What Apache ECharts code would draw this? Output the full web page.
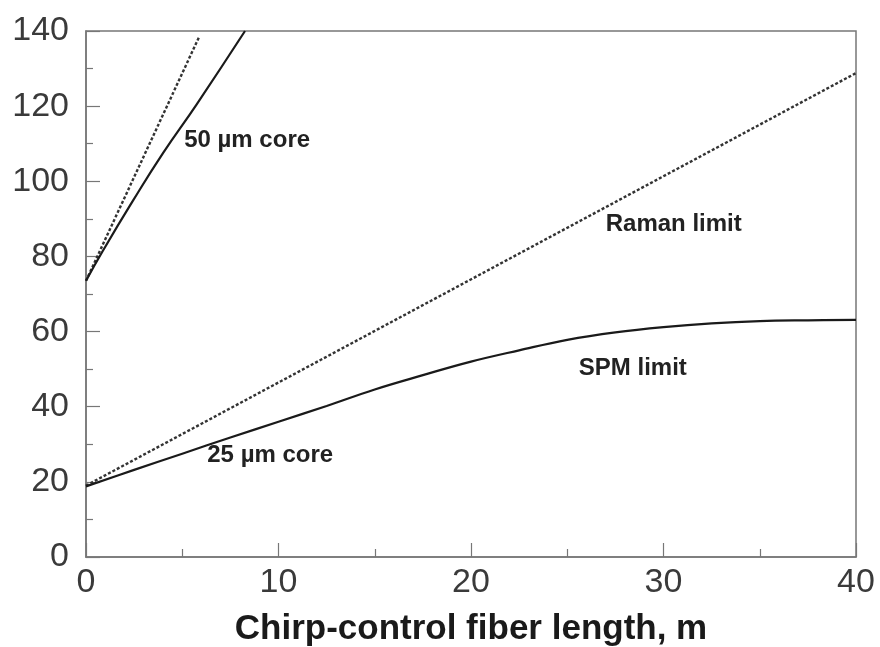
<!DOCTYPE html>
<html>
<head>
<meta charset="utf-8">
<script src="https://cdn.jsdelivr.net/npm/echarts@6/dist/echarts.min.js"></script>
<style>html,body{margin:0;padding:0;background:#fff;}#c{width:880px;height:647px;}</style>
</head>
<body>
<div id="c"></div>
<script>
// Data (x = chirp-control fiber length in m, y = value)
const xTicks = [0, 10, 20, 30, 40];
const yTicks = [0, 20, 40, 60, 80, 100, 120, 140];
const spm25 = [[0, 18.8], [2.5, 23.2], [5, 27.5], [7.5, 31.8], [10, 36.0], [12.5, 40.2], [15, 44.6], [17.5, 48.4], [20, 52.0], [22.5, 55.0], [25, 57.8], [27.5, 59.8], [30, 61.2], [32.5, 62.2], [35, 62.8], [37.5, 63.0], [40, 63.1]];
const raman25 = [[0, 19.0], [40, 128.8]];
const spm50 = [[0, 73.5], [0.9, 81.7], [2.4, 94.5], [4.0, 107.5], [5.75, 120.5], [8.26, 140.0]];
const raman50 = [[0, 73.5], [5.9, 138.7]];
const annotations = [
  { text: '50 µm core', x: 5.1, y: 111 },
  { text: 'Raman limit', x: 27.0, y: 88.6 },
  { text: 'SPM limit', x: 25.6, y: 50.3 },
  { text: '25 µm core', x: 6.3, y: 27.1 }
];

const chart = echarts.init(document.getElementById('c'), null, { renderer: 'canvas' });
const axisCol = '#777';
const solid = { color: '#1a1a1a', width: 2.2, type: 'solid' };
const dotted = { color: '#333', width: 2.4, type: [3, 2] };
chart.setOption({
  animation: false,
  backgroundColor: '#fff',
  grid: { left: 86, right: 24, top: 31, bottom: 90, show: true, borderColor: axisCol, borderWidth: 1.5,
    containLabel: false, outerBoundsMode: 'none' },
  xAxis: {
    type: 'value', min: 0, max: 40, interval: 10,
    name: 'Chirp-control fiber length, m', nameLocation: 'middle', nameGap: 55,
    nameTextStyle: { fontFamily: 'Liberation Sans, Arial', fontWeight: 'bold', fontSize: 35, color: '#1a1a1a' },
    axisLine: { lineStyle: { color: axisCol, width: 1.5 } },
    axisTick: { inside: true, length: 14, lineStyle: { color: axisCol, width: 1.2 } },
    minorTick: { show: true, splitNumber: 2, length: 8, lineStyle: { color: axisCol, width: 1.2 } },
    splitLine: { show: false },
    axisLabel: { fontFamily: 'Liberation Sans, Arial', fontSize: 34, color: '#3a3a3a', margin: 9,
      formatter: v => xTicks.includes(v) ? String(v) : '' }
  },
  yAxis: {
    type: 'value', min: 0, max: 140, interval: 20,
    axisLine: { show: true, lineStyle: { color: axisCol, width: 1.5 } },
    axisTick: { show: true, inside: true, length: 14, lineStyle: { color: axisCol, width: 1.2 } },
    minorTick: { show: true, splitNumber: 2, length: 7, lineStyle: { color: axisCol, width: 1.2 } },
    splitLine: { show: false },
    axisLabel: { fontFamily: 'Liberation Sans, Arial', fontSize: 34, color: '#3a3a3a', margin: 17,
      formatter: v => yTicks.includes(v) ? String(v) : '' }
  },
  series: [
    { type: 'line', data: raman25, showSymbol: false, lineStyle: dotted, clip: true },
    { type: 'line', data: spm25, showSymbol: false, smooth: 0.4, lineStyle: solid, clip: true },
    { type: 'line', data: raman50, showSymbol: false, lineStyle: dotted, clip: true },
    { type: 'line', data: spm50, showSymbol: false, smooth: 0.5, lineStyle: solid, clip: true }
  ]
});
const g = annotations.map(a => {
  const p = chart.convertToPixel({ gridIndex: 0 }, [a.x, a.y]);
  return { type: 'text', x: p[0], y: p[1],
    style: { text: a.text, fill: '#222', font: 'bold 24px "Liberation Sans", Arial', textAlign: 'left', textVerticalAlign: 'middle' } };
});
chart.setOption({ graphic: g });
</script>
</body>
</html>
